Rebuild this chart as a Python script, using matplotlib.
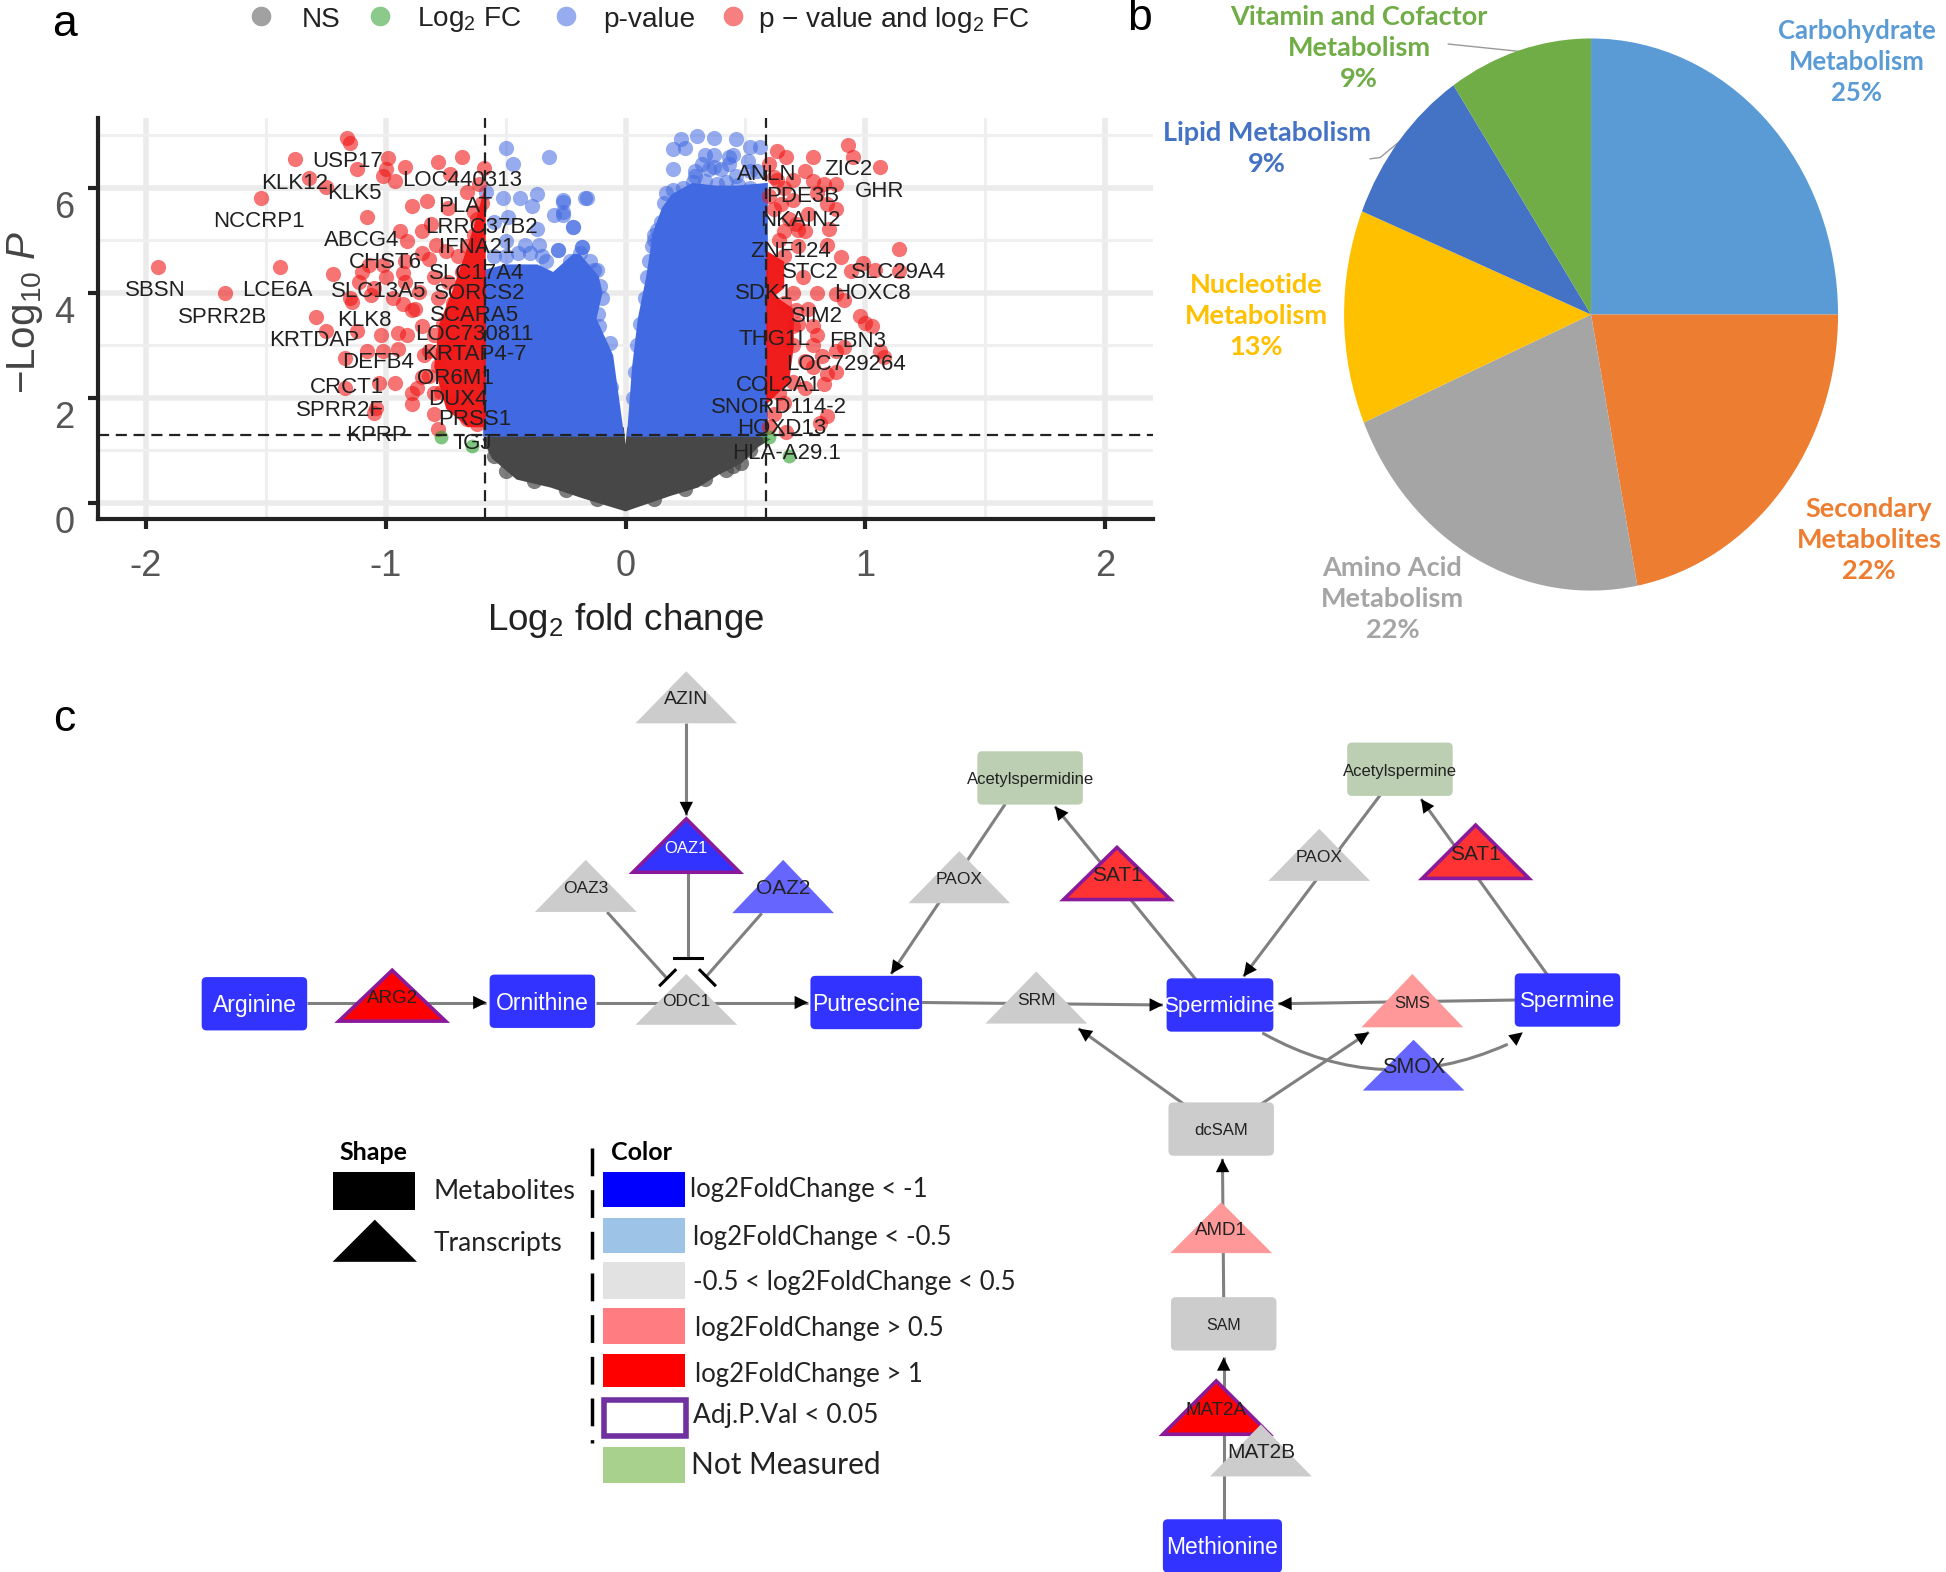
import numpy as np
import matplotlib
matplotlib.use('Agg')
import matplotlib.pyplot as plt
from matplotlib.patches import FancyBboxPatch, Polygon, Rectangle, FancyArrowPatch

plt.rcParams['font.family'] = ['Liberation Sans', 'DejaVu Sans']
plt.rcParams['mathtext.fontset'] = 'custom'
plt.rcParams['mathtext.rm'] = 'Liberation Sans'
plt.rcParams['mathtext.it'] = 'Liberation Sans:italic'
plt.rcParams['mathtext.default'] = 'regular'
narrow = 'Lato'

# panel a, values
red_x = [-1.16,-1.15,-1.38,-0.99,-0.78,-0.68,-1.12,-1.00,-0.92,-1.01,-0.96,-0.73,-0.59,-1.32,-1.25,-1.52,-0.66,-0.61,
         -0.89,-0.83,-1.08,-0.74,-0.63,-0.94,-0.85,-0.81,-0.91,-0.79,-0.85,-0.92,-0.82,-1.07,-1.01,-1.44,-1.95,-1.22,
         -1.11,-0.93,-1.67,-1.14,-0.86,-0.93,-0.89,-1.29,-1.12,-1.25,-1.02,-0.95,-0.91,-0.85,-1.17,-1.08,-1.01,-0.95,
         -0.84,-0.96,-1.03,-1.17,-0.82,-0.89,-0.89,-1.04,-1.05,-0.78,-0.87,-0.77,
         -0.62,-0.60,-0.63,-0.66,-0.70,-0.75,-0.68,-0.74,-0.80,-0.78,-0.72,-0.68,-0.76,-0.80,-0.72,-0.82,-0.78,-0.70,-0.85,
         -0.80,-0.72,-0.80,-0.66,-0.62,-0.75,-0.88,-0.92,-0.97,-1.00,-1.05,-1.10,-1.06,-1.15,
         0.93,0.95,0.78,1.06,0.63,0.67,0.60,0.75,0.78,0.83,0.88,0.70,0.63,0.60,0.65,0.70,0.84,0.85,0.75,0.66,0.71,1.14,
         0.90,0.84,0.99,0.94,1.04,1.14,0.80,0.88,0.91,0.98,1.00,1.03,0.80,0.91,1.06,1.08,0.88,0.84,0.78,0.83,0.84,0.81,
         0.67,0.60,0.75,0.70,0.71,0.78,
         0.62,0.66,0.62,0.68,0.72,0.64,0.76,0.80,0.88,0.72,0.66,0.74,0.70,0.76,0.66,0.72,0.78,0.70,0.75,0.82,0.88,0.64,0.66,0.62,0.70]
red_y = [6.95,6.85,6.55,6.56,6.49,6.59,6.35,6.35,6.39,6.22,6.12,6.27,6.37,6.19,6.01,5.80,5.92,6.08,
         5.65,5.75,5.45,5.61,5.53,5.18,5.18,5.30,4.99,4.91,4.76,4.60,4.64,4.52,4.52,4.50,4.50,4.35,
         4.21,4.37,3.99,3.82,4.02,3.78,3.67,3.54,3.28,3.28,3.20,3.24,3.20,3.36,2.75,2.89,2.89,2.93,
         2.81,2.28,2.28,2.19,2.42,2.10,1.88,1.80,1.72,1.41,2.19,2.11,
         5.40,5.70,5.10,4.90,4.70,4.80,4.40,4.20,4.30,3.90,3.80,3.60,3.40,3.20,3.00,2.90,2.60,2.40,2.40,
         2.10,1.90,1.70,1.60,1.50,2.90,3.70,4.20,3.90,4.30,4.10,4.40,3.95,3.90,
         6.81,6.58,6.58,6.39,6.70,6.58,6.46,6.31,6.12,6.08,6.08,6.15,6.15,5.84,5.69,5.77,5.69,5.22,5.18,5.18,5.30,4.83,
         4.68,4.91,4.56,4.41,4.44,4.41,3.99,3.98,3.86,3.55,3.43,3.36,3.20,2.97,2.89,2.77,2.50,2.46,2.58,2.27,1.65,1.53,
         1.34,1.45,2.19,3.36,3.67,3.36,
         6.20,6.00,5.60,5.40,5.20,5.00,5.50,5.90,5.60,4.90,4.70,4.30,4.00,3.70,3.80,3.40,3.00,3.00,2.70,2.80,2.90,2.10,1.90,1.70,2.30]
blue_x = [0.23,0.30,0.37,0.46,0.20,0.25,0.33,0.37,0.43,0.52,0.56,0.20,0.29,0.37,0.43,0.51,0.12,0.15,-0.17,-0.26,-0.26,-0.22,
          -0.50,-0.47,-0.32,-0.58,-0.51,-0.44,-0.37,-0.26,-0.26,-0.30,-0.16,-0.22,-0.39,-0.55,-0.49,-0.37,-0.28,-0.18,-0.36,-0.42,-0.50,
          0.29,0.32,0.35,0.40,0.45,0.52,0.55,0.46,
          0.16,0.17,0.20,0.24,0.28,0.33,0.38,0.42,0.47,0.52,0.11,0.13,0.12,0.10,0.09,0.08,0.06,0.05,0.04,0.03,
          -0.33,-0.28,-0.23,-0.18,-0.15,-0.12,-0.19,-0.13,-0.105,-0.245,-0.16,-0.50,-0.45,-0.40,-0.55,-0.35,
          -0.10,-0.115,-0.063,-0.11,-0.06]
blue_y = [6.93,6.99,6.95,6.93,6.74,6.76,6.62,6.62,6.58,6.78,6.78,6.36,6.23,6.39,6.46,6.50,5.10,5.34,5.80,5.73,5.49,5.26,
          6.75,6.45,6.59,5.92,5.80,5.80,5.88,5.77,5.53,5.49,5.80,5.26,5.65,5.34,5.45,5.22,4.82,4.87,4.91,4.91,4.99,
          6.31,6.46,6.35,6.35,6.62,6.31,6.31,6.23,
          5.70,5.90,5.95,6.00,6.10,6.12,6.08,6.10,6.05,6.00,4.90,5.20,5.00,4.60,4.30,3.90,3.40,3.00,2.50,2.00,
          4.60,4.82,4.60,4.87,4.60,4.44,4.75,4.44,4.13,4.13,4.20,4.70,4.75,4.75,4.70,4.70,
          3.90,3.60,3.05,3.36,2.20]
green_x = [-0.77,-0.64,0.60,0.68]
green_y = [1.26,1.08,1.25,0.90]
gray_x = [0.33,0.48,-0.55,-0.50,0.42,-0.38,-0.25,-0.12,0.12,0.25,0.45,0.52]
gray_y = [0.45,0.75,0.90,0.60,0.62,0.42,0.25,0.08,0.08,0.27,0.70,1.00]

# outlines of the parts too dense to separate into points
cloud_r_x = [0.015,0.036,0.06,0.095,0.11,0.12,0.16,0.20,0.28,0.38,0.465,0.585,0.585,0.015]
cloud_r_y = [1.30,2.58,3.50,4.30,4.75,5.10,5.60,5.85,6.05,6.00,6.00,6.05,1.30,1.30]
cloud_l_x = [-0.585,-0.585,-0.50,-0.37,-0.30,-0.215,-0.195,-0.12,-0.105,-0.13,-0.06,-0.015,-0.585]
cloud_l_y = [1.30,4.40,4.50,4.50,4.35,4.70,4.70,4.30,4.00,3.50,2.80,1.30,1.30]
gray_out_x = [-0.585,-0.55,-0.45,-0.31,-0.18,0.0,0.185,0.30,0.38,0.48,0.55,0.585,0.45,0.015,0.0,-0.015,-0.50,-0.585]
gray_out_y = [1.20,0.87,0.48,0.33,0.13,-0.12,0.17,0.33,0.56,0.79,1.10,1.20,1.36,1.40,0.70,1.40,1.36,1.20]
band_l_y = [1.45,1.80,2.60,3.40,4.10,4.90,5.50,6.00]
band_l_x = [-0.66,-0.75,-0.80,-0.78,-0.72,-0.66,-0.62,-0.59]
band_r_y = [1.90,2.30,3.00,3.70,3.95,4.10,4.60,4.80]
band_r_x = [0.59,0.68,0.70,0.70,0.62,0.66,0.66,0.59]

gene_l = ['USP17','KLK12','KLK5','LOC440313','NCCRP1','PLAT','LRRC37B2','ABCG4','IFNA21','CHST6','SLC17A4','SBSN','LCE6A',
          'SLC13A5','SORCS2','SPRR2B','KLK8','SCARA5','LOC730811','KRTDAP','KRTAP4-7','DEFB4','OR6M1','CRCT1','DUX4',
          'SPRR2F','PRSS1','KPRP','IGJ']
gene_l_x = [-1.16,-1.38,-1.13,-0.68,-1.53,-0.67,-0.60,-1.10,-0.62,-1.00,-0.62,-1.96,-1.45,-1.03,-0.61,-1.68,-1.09,-0.63,
            -0.63,-1.30,-0.63,-1.03,-0.71,-1.16,-0.70,-1.19,-0.63,-1.04,-0.63]
gene_l_y = [6.52,6.11,5.92,6.16,5.38,5.67,5.27,5.03,4.89,4.60,4.40,4.07,4.07,4.06,4.02,3.55,3.51,3.60,3.24,3.12,2.85,2.70,
            2.39,2.23,2.00,1.78,1.61,1.32,1.16]
gene_r = ['ANLN','ZIC2','GHR','PDE3B','NKAIN2','ZNF124','STC2','SLC29A4','SDK1','HOXC8','SIM2','THG1L','FBN3','LOC729264',
          'COL2A1','SNORD114-2','HOXD13','HLA-A29.1']
gene_r_x = [0.59,0.93,1.06,0.74,0.73,0.69,0.77,1.14,0.58,1.03,0.80,0.62,0.97,0.92,0.64,0.64,0.65,0.67]
gene_r_y = [6.28,6.38,5.95,5.86,5.40,4.82,4.41,4.41,4.02,4.02,3.57,3.14,3.11,2.66,2.27,1.84,1.44,0.97]

# panel b, slice sizes as drawn, the printed percentages are rounder
pie_names = ['Carbohydrate\nMetabolism\n25%','Secondary\nMetabolites\n22%','Amino Acid\nMetabolism\n22%',
             'Nucleotide\nMetabolism\n13%','Lipid Metabolism\n9%','Vitamin and Cofactor\nMetabolism\n9%']
pie_values = [25,22,21.6,12.5,9.5,9.4]
pie_colors = ['#5B9BD5','#ED7D31','#A5A5A5','#FFC000','#4472C4','#70AD47']
pie_lab_x = [1496,1506,1122,1012,1021,1095]
pie_lab_y = [50,435,483,255,120,39]
pie_lab_f = [18.5,19.5,19.5,19.5,19.5,19.5]

# panel c
BLUE, LBLUE, RED, RED2, PINK, GREY, GREEN = '#3333FF','#6666FF','#FF0000','#FF3333','#FF9999','#CCCCCC','#BCCFB2'
PURPLE = '#8B1A9B'
rect_name = ['Arginine','Ornithine','Putrescine','Spermidine','Spermine','Methionine','dcSAM','SAM','Acetylspermidine','Acetylspermine']
rect_x = [205,437,698,983,1263,985,984,986,830,1128]
rect_y = [809,807,808,810,806,1246,910,1067,627,620]
rect_w = [85,85,90,86,85,96,85,85,85,85]
rect_c = [BLUE,BLUE,BLUE,BLUE,BLUE,BLUE,GREY,GREY,GREEN,GREEN]
rect_t = ['white']*6+['#222222']*4
rect_f = [16.5,16.5,16.5,16,16,16.5,12,11.5,12,12]

tri_name = ['AZIN','OAZ1','OAZ3','OAZ2','ARG2','ODC1','PAOX','SAT1','PAOX','SAT1','SRM','SMS','SMOX','AMD1','MAT2A','MAT2B']
tri_x = [553,553,472,631,316,553,773,900,1063,1189,835,1138,1139,984,980,1016]
tri_apex = [541,660,693,693,782,785,686,683,668,665,783,785,838,969,1113,1148]
tri_base = [583,703,735,736,823,826,728,725,710,708,825,828,879,1010,1156,1190]
tri_c = [GREY,BLUE,GREY,LBLUE,RED,GREY,GREY,RED2,GREY,RED2,GREY,PINK,LBLUE,PINK,RED,GREY]
tri_e = [0,1,0,0,1,0,0,1,0,1,0,0,0,0,1,0]
tri_t = ['#222222','white']+['#222222']*14
tri_f = [14,12,12.5,15,13.5,12.5,12.5,15,12.5,15,12.5,12,15.5,13.5,13.5,15]

arrows = [(247,808,392,808),(480,808,651,808),(743,808,937,810),(1221,806,1030,809),(553,583,553,657),
          (810,648,718,785),(964,790,850,650),(1112,641,1002,787),(1247,786,1145,644),(954,890,869,829),(1016,890,1103,832),
          (986,1225,986,1094),(986,1046,985,934)]
bars = [(554,703,554,772,543,772,566,772),(490,736,536,787,532,794,544,782),(613,737,570,786,564,782,576,794)]

sw_top = [945,982,1017,1054,1091,1127,1166]
sw_bot = [973,1010,1047,1083,1118,1158,1195]
sw_col = ['#0000FF','#9DC3E6','#E2E2E2','#FF7C80','#FF0000','white','#A9D18E']
sw_txt = ['log2FoldChange < -1','log2FoldChange < -0.5','-0.5 < log2FoldChange < 0.5','log2FoldChange > 0.5',
          'log2FoldChange > 1','Adj.P.Val < 0.05','Not Measured']
sw_tx = [556,558,558,560,560,558,557]
sw_ty = [959,997,1034,1071,1108,1141,1181]
sw_f = [18.5,18.5,18.5,18.5,18.5,19,21.5]

fig = plt.figure(figsize=(19.46,15.72), dpi=100)
W, H = 1568.0, 1267.0

# whole figure canvas, in picture pixels
canvas = fig.add_axes([0,0,1,1])
canvas.set_xlim(0,W)
canvas.set_ylim(H,0)
canvas.axis('off')

canvas.text(52,20,'a',fontsize=32,ha='center',va='center')
canvas.text(918,15,'b',fontsize=32,ha='center',va='center')
canvas.text(52,580,'c',fontsize=32,ha='center',va='center')

# panel a
ax = fig.add_axes([79/W,1-418/H,850/W,323/H])
ax.set_xlim(-2.2,2.2)
ax.set_ylim(-0.3,7.33)
ax.set_xticks([-2,-1,0,1,2])
ax.set_xticks([-1.5,-0.5,0.5,1.5],minor=True)
ax.set_yticks([0,2,4,6])
ax.set_yticks([1,3,5,7],minor=True)
ax.grid(which='major',color='#EBEBEB',lw=4)
ax.grid(which='minor',color='#EFEFEF',lw=2.2)
ax.set_axisbelow(True)
ax.tick_params(which='minor',length=0)
ax.tick_params(which='major',labelsize=26,labelcolor='#555555',width=3,length=7,color='#222222',pad=15)
ax.tick_params(axis='y',labelleft=False)
for s in ['top','right']:
    ax.spines[s].set_visible(False)
for s in ['left','bottom']:
    ax.spines[s].set_linewidth(3)
    ax.spines[s].set_color('#222222')
ax.set_xticklabels(['-2','-1','0','1','2'])
ax.set_xlabel('Log$_2$ fold change',fontsize=26.5,color='#222222',labelpad=12)
ax.set_ylabel('$-$Log$_{10}$ $\\mathit{P}$',fontsize=29,color='#444444')
ax.yaxis.set_label_coords(-0.05,0.514)
# the y labels sit well below their ticks in this picture
for v in [0,2,4,6]:
    ax.annotate(str(v),xy=(0,v),xycoords=ax.get_yaxis_transform(),xytext=(-17,-15),textcoords='offset points',
                fontsize=26,color='#555555',ha='right',va='center')

ax.fill(gray_out_x,gray_out_y,color='#474747',lw=3,zorder=2)
ax.scatter(gray_x,gray_y,s=120,color='#474747',alpha=0.7,lw=0,zorder=2)
ax.fill(cloud_r_x,cloud_r_y,color='#4169E1',lw=3,zorder=3)
ax.fill(cloud_l_x,cloud_l_y,color='#4169E1',lw=3,zorder=3)
ax.scatter(blue_x,blue_y,s=120,color='#4169E1',alpha=0.55,lw=0,zorder=3)
ax.fill_betweenx(band_l_y,band_l_x,-0.585,color='#F01010',alpha=0.95,lw=0,zorder=4)
ax.fill_betweenx(band_r_y,0.585,band_r_x,color='#F01010',alpha=0.95,lw=0,zorder=4)
ax.scatter(red_x,red_y,s=120,color='#F01818',alpha=0.6,lw=0,zorder=4)
ax.scatter(green_x,green_y,s=100,color='#2CA02C',alpha=0.6,lw=0,zorder=4)
ax.axhline(1.3,color='#222222',lw=1.6,ls=(0,(5,3)),zorder=5)
ax.axvline(-0.585,color='#222222',lw=1.6,ls=(0,(5,3)),zorder=5)
ax.axvline(0.585,color='#222222',lw=1.6,ls=(0,(5,3)),zorder=5)
for t,x,y in zip(gene_l+gene_r,gene_l_x+gene_r_x,gene_l_y+gene_r_y):
    ax.text(x,y-0.03,t,fontsize=16,color='#202020',ha='center',va='center',zorder=6)

# legend of panel a
leg_x = [210,306,456,591]
leg_c = ['#555555','#2CA02C','#4169E1','#F01818']
leg_t = ['NS','Log$_2$ FC','p-value','p $-$ value and log$_2$ FC']
leg_tx = [243,336,486,611]
for x,c,t,tx in zip(leg_x,leg_c,leg_t,leg_tx):
    canvas.scatter([x],[13],s=200,color=c,alpha=0.55,lw=0)
    canvas.text(tx,16,t,fontsize=20.2,color='#222222',ha='left',va='center')

# panel b
pax = fig.add_axes([1083/W,1-476/H,398/W,445/H])
pax.pie(pie_values,colors=pie_colors,startangle=90,counterclock=False,radius=1.0)
pax.set_aspect('auto')
pax.set_xlim(-1,1)
pax.set_ylim(-1,1)
for t,x,y,c,f in zip(pie_names,pie_lab_x,pie_lab_y,pie_colors,pie_lab_f):
    canvas.text(x,y,t,fontsize=f,fontfamily=narrow,fontweight='bold',color=c,ha='center',va='center',linespacing=1.35)
canvas.plot([1167,1225],[35.5,41.5],color='#999999',lw=1)
canvas.plot([1104,1112,1129],[128,127,113],color='#999999',lw=1)

# panel c, edges first and nodes on top
def head(x1,y1,x2,y2):
    d = np.hypot(x2-x1,y2-y1)
    xs, ys = x2-(x2-x1)/d*24, y2-(y2-y1)/d*24
    canvas.add_patch(FancyArrowPatch((xs,ys),(x2,y2),arrowstyle='-|>',mutation_scale=24,color='black',lw=0,
                                     shrinkA=0,shrinkB=0,zorder=2.5))

for x1,y1,x2,y2 in arrows:
    canvas.plot([x1,x2],[y1,y2],color='#808080',lw=2.2,zorder=2,solid_capstyle='butt')
    head(x1,y1,x2,y2)
for x1,y1,x2,y2,bx1,by1,bx2,by2 in bars:
    canvas.plot([x1,x2],[y1,y2],color='#808080',lw=2.2,zorder=2)
    canvas.plot([bx1,bx2],[by1,by2],color='black',lw=2.2,zorder=2.5)
canvas.add_patch(FancyArrowPatch((1018,833),(1214,842),connectionstyle='arc3,rad=0.25',arrowstyle='-',
                                 color='#808080',lw=2.2,shrinkA=0,shrinkB=0,zorder=2))
head(1208,847,1227,832)

for t,x,y,w,c,tc,f in zip(rect_name,rect_x,rect_y,rect_w,rect_c,rect_t,rect_f):
    canvas.add_patch(FancyBboxPatch((x-w/2+2.5,y-19),w-5,38,boxstyle='round,pad=2.5,rounding_size=4',fc=c,ec='none',zorder=3))
    canvas.text(x,y+1.5,t,fontsize=f,color=tc,ha='center',va='center',zorder=6)
for t,x,a,b,c,e,tc,f in zip(tri_name,tri_x,tri_apex,tri_base,tri_c,tri_e,tri_t,tri_f):
    hw = 43 if e else 41
    canvas.add_patch(Polygon([(x,a),(x-hw,b),(x+hw,b)],closed=True,fc=c,ec=PURPLE if e else 'none',lw=2.6 if e else 0,
                             zorder=4 if t!='MAT2B' else 5))
    canvas.text(x,a+(b-a)*0.5+2,t,fontsize=f,color=tc,ha='center',va='center',zorder=6)

# panel c legend
canvas.text(301,929,'Shape',fontsize=18,fontfamily=narrow,fontweight='bold',ha='center',va='center')
canvas.text(517,929,'Color',fontsize=18,fontfamily=narrow,fontweight='bold',ha='center',va='center')
canvas.add_patch(Rectangle((268,945),66,30,fc='black',ec='none'))
canvas.add_patch(Polygon([(302,983),(268,1017),(336,1017)],closed=True,fc='black',ec='none'))
canvas.text(349,960,'Metabolites',fontsize=19.5,fontfamily=narrow,color='#222222',va='center')
canvas.text(349,1002,'Transcripts',fontsize=19,fontfamily=narrow,color='#222222',va='center')
canvas.plot([477,477],[925,1163],color='black',lw=2.5,ls=(0,(8,4)))
for i in range(len(sw_txt)):
    if sw_txt[i].startswith('Adj'):
        canvas.add_patch(Rectangle((487,sw_top[i]+1),66,sw_bot[i]-sw_top[i]-2,fc='white',ec='#7030A0',lw=4))
    else:
        canvas.add_patch(Rectangle((486,sw_top[i]),66,sw_bot[i]-sw_top[i],fc=sw_col[i],ec='none'))
    canvas.text(sw_tx[i],sw_ty[i],sw_txt[i],fontsize=sw_f[i],fontfamily=narrow,color='#222222',va='center')

fig.savefig('out.png',dpi=100)
